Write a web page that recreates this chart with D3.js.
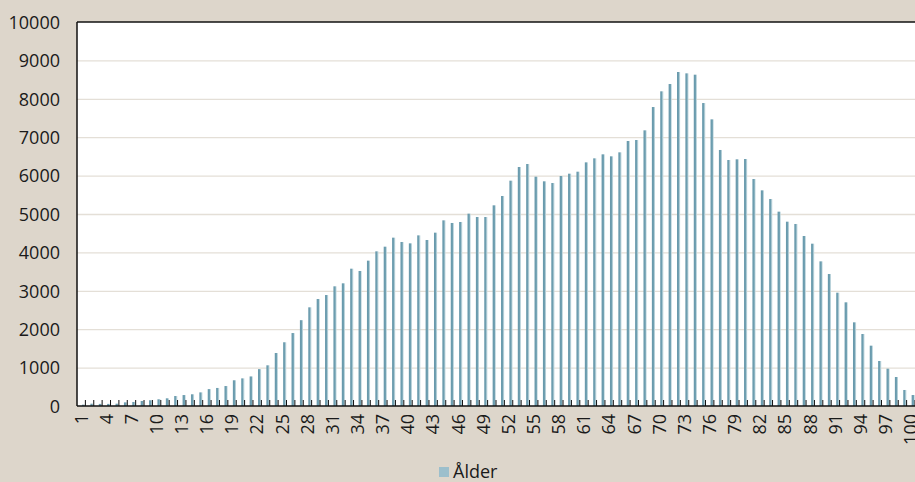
<!DOCTYPE html>
<html>
<head>
<meta charset="utf-8">
<script src="https://cdn.jsdelivr.net/npm/d3@7/dist/d3.min.js"></script>
<style>
  html, body { margin: 0; padding: 0; background: #ddd6cb; }
  svg { display: block; }
  text { font-family: "Open Sans", sans-serif; fill: #1a1a1a; }
</style>
</head>
<body>
<svg id="chart" width="915" height="482"></svg>
<script>
// Age categories (1–100) and number of people per age
const ages = d3.range(1, 101);
const counts = [
  35, 60, 55, 55, 60, 95, 105, 130, 150, 175,
  200, 260, 285, 305, 355, 440, 470, 520, 670, 720,
  770, 960, 1060, 1380, 1660, 1900, 2235, 2570, 2786, 2890,
  3117, 3195, 3576, 3516, 3785, 4028, 4149, 4384, 4271, 4236,
  4444, 4323, 4514, 4835, 4766, 4792, 5009, 4922, 4922, 5226,
  5469, 5868, 6224, 6302, 5972, 5851, 5807, 5990, 6050, 6102,
  6345, 6450, 6554, 6502, 6606, 6901, 6927, 7179, 7786, 8195,
  8385, 8698, 8663, 8628, 7890, 7465, 6667, 6406, 6424, 6432,
  5911, 5616, 5390, 5061, 4800, 4740, 4427, 4227, 3767, 3437,
  2951, 2700, 2179, 1875, 1571, 1172, 972, 755, 417, 286
];
const xTickLabels = [1, 4, 7, 10, 13, 16, 19, 22, 25, 28, 31, 34, 37, 40, 43, 46, 49,
  52, 55, 58, 61, 64, 67, 70, 73, 76, 79, 82, 85, 88, 91, 94, 97, 100];
const yTicks = [0, 1000, 2000, 3000, 4000, 5000, 6000, 7000, 8000, 9000, 10000];
const seriesName = "Ålder";

const svg = d3.select("#chart");
const plot = { left: 77, right: 915, top: 22, bottom: 406 };

const x = d3.scaleBand().domain(ages).range([plot.left, plot.right]).paddingInner(0).paddingOuter(0);
const y = d3.scaleLinear().domain([0, 10000]).range([plot.bottom, plot.top]);

// bar gradient: darker body with a pale right edge
const defs = svg.append("defs");
const grad = defs.append("linearGradient").attr("id", "barFill")
  .attr("x1", "0").attr("x2", "1").attr("y1", "0").attr("y2", "0");
grad.append("stop").attr("offset", "0%").attr("stop-color", "#6697aa");
grad.append("stop").attr("offset", "62%").attr("stop-color", "#72a2b3");
grad.append("stop").attr("offset", "72%").attr("stop-color", "#a9c7d1");
grad.append("stop").attr("offset", "100%").attr("stop-color", "#c3d9e0");

// plot area
svg.append("rect")
  .attr("x", plot.left).attr("y", plot.top)
  .attr("width", plot.right - plot.left + 5).attr("height", plot.bottom - plot.top)
  .attr("fill", "#ffffff");

// horizontal gridlines + y labels
const yAxis = svg.append("g")
  .attr("transform", `translate(${plot.left},0)`)
  .call(d3.axisLeft(y).tickValues(yTicks).tickFormat(d3.format("d"))
    .tickSize(-(plot.right - plot.left)).tickPadding(17));
yAxis.select(".domain").remove();
yAxis.selectAll(".tick line")
  .attr("stroke", "#e4dfd7").attr("stroke-width", 1.3)
  .filter(d => d === 0 || d === 10000).remove();
yAxis.selectAll(".tick text")
  .style("font-family", "'Open Sans', sans-serif")
  .style("font-size", "18px").attr("fill", "#1a1a1a").attr("dy", "0.35em");

// bars
const step = x.step();
svg.append("g").selectAll("rect")
  .data(ages)
  .join("rect")
  .attr("x", (d) => x(d) + step * 0.6)
  .attr("width", step * 0.37)
  .attr("y", (d, i) => y(counts[i]))
  .attr("height", (d, i) => y(0) - y(counts[i]))
  .attr("fill", "url(#barFill)");

// inward tick marks at category boundaries
svg.append("g").selectAll("line")
  .data(ages)
  .join("line")
  .attr("x1", d => x(d) + step).attr("x2", d => x(d) + step)
  .attr("y1", plot.bottom).attr("y2", plot.bottom - 6)
  .attr("stroke", "#111").attr("stroke-width", 1);

// plot frame: top, left and bottom
svg.append("line").attr("x1", plot.left).attr("x2", plot.right + 5)
  .attr("y1", plot.top).attr("y2", plot.top).attr("stroke", "#111").attr("stroke-width", 1.3);
svg.append("line").attr("x1", plot.left).attr("x2", plot.left)
  .attr("y1", plot.top).attr("y2", plot.bottom).attr("stroke", "#111").attr("stroke-width", 1.5);
svg.append("line").attr("x1", plot.left).attr("x2", plot.right + 5)
  .attr("y1", plot.bottom).attr("y2", plot.bottom).attr("stroke", "#111").attr("stroke-width", 1.5);

// x labels, rotated
const xAxis = svg.append("g")
  .attr("transform", `translate(0,${plot.bottom})`)
  .call(d3.axisBottom(x).tickValues(xTickLabels).tickSize(0));
xAxis.select(".domain").remove();
xAxis.selectAll(".tick text")
  .style("font-family", "'Open Sans', sans-serif")
  .style("font-size", "18px").attr("fill", "#1a1a1a")
  .attr("text-anchor", "end")
  .attr("transform", "rotate(-90)")
  .attr("x", -8).attr("y", 0).attr("dy", "0.35em");

// legend
const legend = svg.append("g").attr("transform", "translate(439,467)");
legend.append("rect").attr("width", 10).attr("height", 10).attr("fill", "#9cbfcc");
legend.append("text").attr("x", 14).attr("y", 10.5)
  .style("font-size", "18px").attr("fill", "#1a1a1a").text(seriesName);
</script>
</body>
</html>
